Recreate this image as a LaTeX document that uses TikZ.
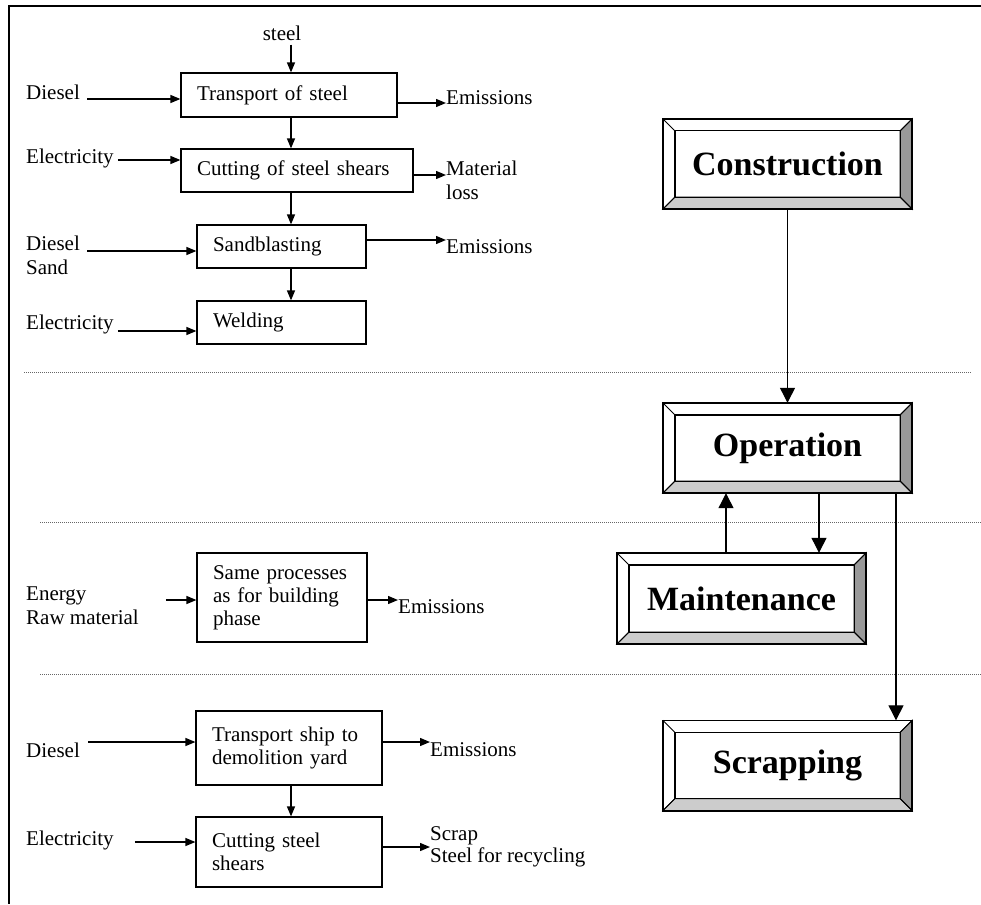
\documentclass[tikz,border=0pt]{standalone}
\usepackage{fontspec}
\setmainfont{Liberation Serif}
\usetikzlibrary{arrows.meta,calc}
\tikzset{
  lbl/.style={font=\fontsize{21}{24}\selectfont, inner sep=0pt, align=left, anchor=west},
  pbox/.style={draw, line width=1.2pt, font=\fontsize{21}{23}\selectfont, align=left, inner xsep=16pt, inner ysep=0pt},
  arr/.style={line width=1.3pt, -{Triangle[length=10pt,width=8pt]}},
  bigarr/.style={line width=1.2pt, -{Triangle[length=15pt,width=15pt]}},
  phase/.style={minimum width=249pt, minimum height=90pt, inner sep=0pt, font=\fontsize{34}{40}\selectfont\bfseries},
  sep/.style={black!60, line width=1pt, dash pattern=on 1pt off 1pt},
  frame/.style={line width=2pt}
}
\newcommand\bevelframe[1]{%
  \coordinate (#1-A) at ($(#1.north west)+(12,12)$);
  \coordinate (#1-B) at ($(#1.north east)+(-12,12)$);
  \coordinate (#1-C) at ($(#1.south east)+(-12,-12)$);
  \coordinate (#1-D) at ($(#1.south west)+(12,-12)$);
  \filldraw[fill=black!40, line width=1pt] (#1.north east) -- (#1.south east) -- (#1-C) -- (#1-B) -- cycle;
  \filldraw[fill=black!20, line width=1pt] (#1.south east) -- (#1.south west) -- (#1-D) -- (#1-C) -- cycle;
  \draw[line width=1pt] (#1.north west) -- (#1-A) (#1.north east) -- (#1-B) (#1.south west) -- (#1-D) (#1.south east) -- (#1-C);
  \draw[line width=1.6pt] (#1.north west) rectangle (#1.south east);
  \draw[line width=1.4pt] (#1-A) rectangle (#1-C);
}
\begin{document}
\begin{tikzpicture}[x=1pt,y=-1pt]
\useasboundingbox (0,0) rectangle (981,904);
% frame
\draw[frame] (981,6.5) -- (8.5,6.5) -- (8.5,904);
% separators
\draw[sep] (24,372) -- (972,372);
\draw[sep] (40,522) -- (981,522);
\draw[sep] (40,674) -- (981,674);

\coordinate (col) at (291,0);

% ---------- construction processes
\node[lbl, anchor=center] (steel) at (282,33) {steel};
\node[pbox, text width=184pt, minimum height=44pt] (b1) at (289,95) {Transport of steel};
\node[pbox, text width=200pt, minimum height=43pt] (b2) at (297,170.5) {Cutting of steel shears};
\node[pbox, text width=137pt, minimum height=43pt] (b3) at (281.5,246.5) {Sandblasting};
\node[pbox, text width=137pt, minimum height=43pt] (b4) at (281.5,322.5) {Welding};

\draw[arr] ([yshift=-4pt]steel.south -| col) -- (b1.north -| col);
\draw[arr] (b1.south -| col) -- (b2.north -| col);
\draw[arr] (b2.south -| col) -- (b3.north -| col);
\draw[arr] (b3.south -| col) -- (b4.north -| col);

\node[lbl] (dsl1) at (26,92) {Diesel};
\node[lbl] (el1) at (26,158) {Electricity};
\node[lbl] (ds2) at (26,255) {Diesel\\Sand};
\node[lbl] (el2) at (26,324) {Electricity};
\draw[arr, shorten <=7pt] (dsl1.east |- 0,99) -- (b1.west |- 0,99);
\draw[arr, shorten <=4pt] (el1.east |- 0,160) -- (b2.west |- 0,160);
\draw[arr, shorten <=7pt] (ds2.east |- 0,251) -- (b3.west |- 0,251);
\draw[arr, shorten <=4pt] (el2.east |- 0,331) -- (b4.west |- 0,331);

\node[lbl] (em1) at (446,98) {Emissions};
\node[lbl] (ml) at (446,180) {Material\\loss};
\node[lbl] (em2) at (446,247) {Emissions};
\draw[arr] (b1.east |- 0,103) -- (em1.west |- 0,103);
\draw[arr] (b2.east |- 0,175) -- (ml.west |- 0,175);
\draw[arr] (b3.east |- 0,240) -- (em2.west |- 0,240);

% ---------- maintenance processes
\node[pbox, text width=138pt, minimum height=89pt] (b5) at (282,597.5) {Same processes\\as for building\\phase};
\node[lbl] (er) at (26,606) {Energy\\Raw material};
\node[lbl] (em4) at (398,607) {Emissions};
\draw[arr, shorten <=27pt] (er.east |- 0,600) -- (b5.west |- 0,600);
\draw[arr] (b5.east |- 0,600) -- (em4.west |- 0,600);

% ---------- scrapping processes
\node[pbox, text width=154pt, minimum height=74pt] (b6) at (289,748) {Transport ship to\\demolition yard};
\node[pbox, text width=154pt, minimum height=70pt] (b7) at (289,852) {Cutting steel\\shears};
\draw[arr] (b6.south -| col) -- (b7.north -| col);
\node[lbl] (dsl3) at (26,750) {Diesel};
\node[lbl] (el3) at (26,840) {Electricity};
\draw[arr, shorten <=8pt] (dsl3.east |- 0,742) -- (b6.west |- 0,742);
\draw[arr, shorten <=21pt] (el3.east |- 0,842) -- (b7.west |- 0,842);
\node[lbl] (em3) at (430,750) {Emissions};
\node[lbl, font=\fontsize{21}{22}\selectfont] (scr) at (430,847) {Scrap\\Steel for recycling};
\draw[arr] (b6.east |- 0,742) -- (em3.west |- 0,742);
\draw[arr] (b7.east |- 0,847) -- (scr.west |- 0,847);

% ---------- life phases
\node[phase] (cons) at (787.5,164) {Construction};
\node[phase] (oper) at (787.5,448) {Operation};
\node[phase, minimum height=91pt] (maint) at (741.5,598.5) {Maintenance};
\node[phase] (scrap) at (787.5,765.5) {Scrapping};
\bevelframe{cons}
\bevelframe{oper}
\bevelframe{maint}
\bevelframe{scrap}

\draw[bigarr] (cons.south) -- (oper.north);
\draw[bigarr] ([xshift=31.5pt]oper.south) -- ([xshift=31.5pt]oper.south |- maint.north);
\draw[bigarr] ([xshift=-15.5pt]maint.north) -- ([xshift=-15.5pt]maint.north |- oper.south);
\draw[bigarr] ([xshift=108.5pt]oper.south) -- ([xshift=108.5pt]oper.south |- scrap.north);
\end{tikzpicture}
\end{document}
